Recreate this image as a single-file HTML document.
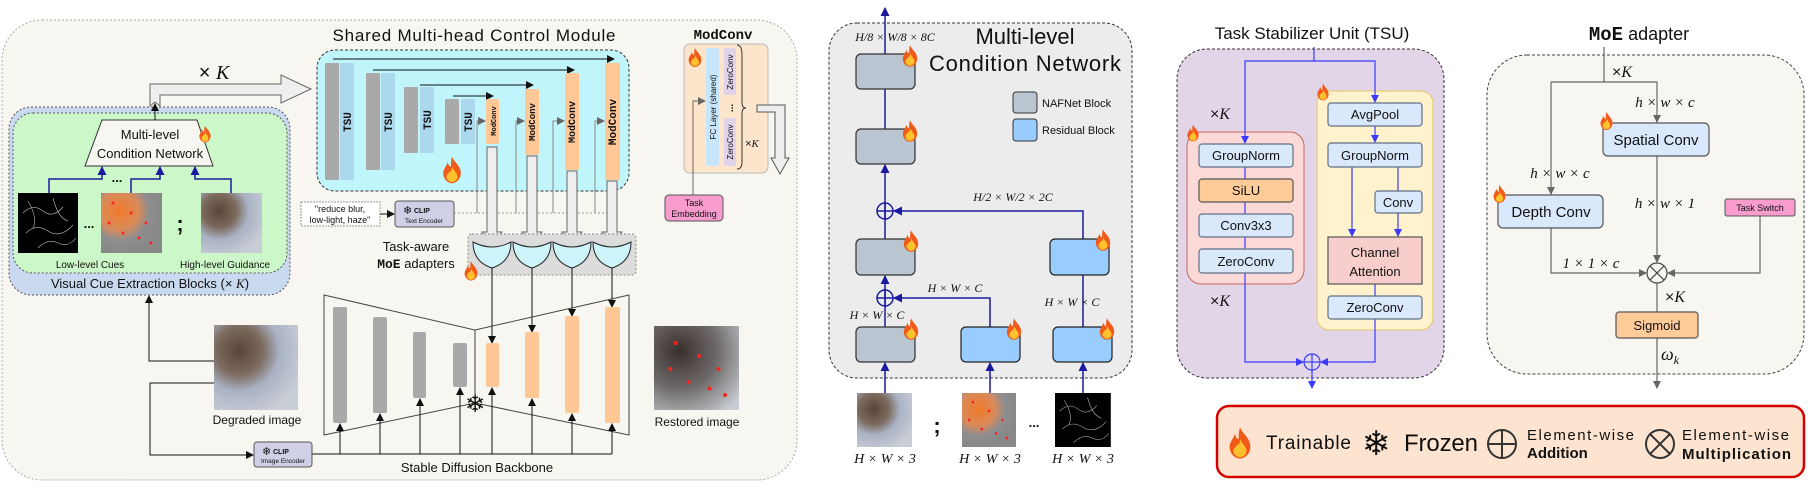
<!DOCTYPE html>
<html><head><meta charset="utf-8"><style>
html,body{margin:0;padding:0;background:#fff}
svg{display:block}
text{font-family:"Liberation Sans","DejaVu Sans",sans-serif;fill:#111}
.m{font-family:"Liberation Serif",serif;font-style:italic}
.mono{font-family:"Liberation Mono",monospace;font-weight:bold}
</style></head><body>
<svg width="1808" height="491" viewBox="0 0 1808 491" xmlns="http://www.w3.org/2000/svg">
<defs>
<symbol id="fire" viewBox="0 0 20 24">
<path d="M10 0C12 5 18 8 18 15C18 20 14 24 10 24C6 24 2 20 2 15C2 11 5 9 6 5C7 8 8 9 9 9C9 6 9 3 10 0Z" fill="#f05a1a"/>
<path d="M10 9C12 13 15 15 15 18C15 21 12 23 10 23C8 23 5 21 5 18C5 16 7 15 8 13C9 14 10 12 10 9Z" fill="#ffc22e"/>
</symbol>
<marker id="ak" markerWidth="8" markerHeight="8" refX="7" refY="4" orient="auto" markerUnits="userSpaceOnUse"><path d="M0 0L8 4L0 8Z" fill="#111"/></marker>
<marker id="ab" markerWidth="9" markerHeight="9" refX="8" refY="4.5" orient="auto" markerUnits="userSpaceOnUse"><path d="M0 0L9 4.5L0 9Z" fill="#1a1aa0"/></marker>
<marker id="ap" markerWidth="8" markerHeight="8" refX="7" refY="4" orient="auto" markerUnits="userSpaceOnUse"><path d="M0 0L8 4L0 8Z" fill="#3a3aff"/></marker>
<marker id="ag" markerWidth="8" markerHeight="8" refX="7" refY="4" orient="auto" markerUnits="userSpaceOnUse"><path d="M0 0L8 4L0 8Z" fill="#666"/></marker>
<radialGradient id="blur" cx="0.3" cy="0.3" r="0.8"><stop offset="0" stop-color="#5a4636"/><stop offset="0.35" stop-color="#7c6a5e"/><stop offset="0.6" stop-color="#a9b2c4"/><stop offset="1" stop-color="#c9cdd6"/></radialGradient>
<radialGradient id="orng" cx="0.3" cy="0.3" r="0.7"><stop offset="0" stop-color="#f07a2a"/><stop offset="0.45" stop-color="#d98a5a"/><stop offset="0.7" stop-color="#8e8e8e"/><stop offset="1" stop-color="#888"/></radialGradient>
<radialGradient id="rest" cx="0.3" cy="0.3" r="0.9"><stop offset="0" stop-color="#3a302c"/><stop offset="0.5" stop-color="#6e6a6a"/><stop offset="1" stop-color="#c8ccd2"/></radialGradient>
<g id="edges"><rect width="60" height="60" fill="#000"/><path d="M5 20 Q15 10 25 18 T45 14 M8 40 Q18 30 30 38 T55 32 M20 55 Q30 45 40 50 T58 45 M10 8 Q20 25 15 35 M35 5 Q40 25 50 28" stroke="#bbb" stroke-width="0.6" fill="none"/></g>
<g id="spots"><circle cx="12" cy="10" r="1.5" fill="#f22"/><circle cx="30" cy="20" r="1.5" fill="#f22"/><circle cx="22" cy="40" r="1.5" fill="#f22"/><circle cx="45" cy="30" r="1.5" fill="#f22"/><circle cx="50" cy="50" r="1.5" fill="#f22"/><circle cx="8" cy="30" r="1.5" fill="#f22"/><circle cx="38" cy="45" r="1.5" fill="#f22"/></g>
</defs>

<!-- ============ PANEL 1 ============ -->
<rect x="2" y="20" width="795" height="460" rx="40" fill="#f8f6f0" stroke="#aaa" stroke-dasharray="2,2"/>
<text x="474" y="41" font-size="17" text-anchor="middle" textLength="283">Shared Multi-head Control Module</text>
<rect x="317" y="50" width="312" height="141" rx="18" fill="#bff5fb" stroke="#333" stroke-dasharray="3,2"/>
<line x1="333" y1="59" x2="614" y2="59" stroke="#111" marker-end="url(#ak)"/>
<line x1="373" y1="70" x2="574" y2="70" stroke="#111" marker-end="url(#ak)"/>
<line x1="420" y1="85" x2="533" y2="85" stroke="#111" marker-end="url(#ak)"/>
<line x1="453" y1="96" x2="493" y2="96" stroke="#111" marker-end="url(#ak)"/>
<g fill="#a9a9a9"><rect x="325" y="63" width="14" height="117" rx="1"/><rect x="366" y="73" width="14" height="97" rx="1"/><rect x="404" y="87" width="14" height="66" rx="1"/><rect x="445" y="99" width="14" height="45" rx="1"/></g>
<g fill="#acd8ee"><rect x="340" y="63" width="14" height="117" rx="1"/><rect x="381" y="73" width="14" height="97" rx="1"/><rect x="420" y="87" width="14" height="66" rx="1"/><rect x="461" y="99" width="14" height="45" rx="1"/></g>
<g font-size="11">
<text transform="translate(351,122) rotate(-90)" text-anchor="middle" class="mono">TSU</text>
<text transform="translate(392,122) rotate(-90)" text-anchor="middle" class="mono">TSU</text>
<text transform="translate(431,120) rotate(-90)" text-anchor="middle" class="mono">TSU</text>
<text transform="translate(472,122) rotate(-90)" text-anchor="middle" class="mono">TSU</text></g>
<g fill="#fdc796"><rect x="486" y="99" width="13" height="45" rx="2"/><rect x="525" y="89" width="14" height="66" rx="2"/><rect x="565" y="73" width="14" height="97" rx="2"/><rect x="605" y="63" width="15" height="117" rx="2"/></g>
<text transform="translate(496,121) rotate(-90)" text-anchor="middle" class="mono" font-size="7">ModConv</text>
<text transform="translate(535,122) rotate(-90)" text-anchor="middle" class="mono" font-size="9">ModConv</text>
<text transform="translate(575,122) rotate(-90)" text-anchor="middle" class="mono" font-size="10">ModConv</text>
<text transform="translate(616,122) rotate(-90)" text-anchor="middle" class="mono" font-size="11">ModConv</text>
<use href="#fire" x="441" y="155" width="22" height="30"/>
<rect x="301" y="202" width="79" height="24" fill="#fff" stroke="#999" stroke-dasharray="2,1"/>
<text x="340" y="212" font-size="9" text-anchor="middle" font-family="Liberation Serif">"reduce blur,</text>
<text x="340" y="223" font-size="9" text-anchor="middle" font-family="Liberation Serif">low-light, haze"</text>
<line x1="380" y1="214" x2="394" y2="214" stroke="#111" marker-end="url(#ak)"/>
<rect x="395" y="201" width="59" height="26" rx="3" fill="#cfd0e6" stroke="#555"/>
<text x="403" y="214" font-size="11" fill="#3399ff">❄</text>
<text x="414" y="213" font-size="7" font-family="Liberation Mono" font-weight="bold">CLIP</text>
<text x="424" y="223" font-size="6.5" text-anchor="middle">Text Encoder</text>
<line x1="454" y1="213" x2="616" y2="213" stroke="#999" stroke-dasharray="2,2"/>
<g stroke="#888" fill="none" marker-end="url(#ag)">
<path d="M477 213V121H485"/><path d="M516 213V121H524"/><path d="M553 213V121H564"/><path d="M595 213V121H604"/></g>
<g fill="#eee" stroke="#666" stroke-width="1">
<polygon points="487,147 497,147 497,232 502,232 492,247 482,232 487,232"/>
<polygon points="527,156 537,156 537,232 542,232 532,247 522,232 527,232"/>
<polygon points="567,171 577,171 577,232 582,232 572,247 562,232 567,232"/>
<polygon points="607,181 617,181 617,232 622,232 612,247 602,232 607,232"/></g>
<rect x="468" y="234" width="168" height="41" rx="4" fill="#dcdcdc" stroke="#888" stroke-dasharray="2,2"/>
<g fill="#cdf5fb" stroke="#222">
<path d="M473 242Q492 252 511 242Q511 262 492 268Q473 262 473 242Z"/>
<path d="M513 242Q532 252 551 242Q551 262 532 268Q513 262 513 242Z"/>
<path d="M553 242Q572 252 591 242Q591 262 572 268Q553 262 553 242Z"/>
<path d="M593 242Q612 252 631 242Q631 262 612 268Q593 262 593 242Z"/></g>
<text x="416" y="251" font-size="13" text-anchor="middle">Task-aware</text>
<text x="416" y="268" font-size="13" text-anchor="middle"><tspan class="mono">MoE</tspan> adapters</text>
<use href="#fire" x="463" y="260" width="16" height="22"/>
<g stroke="#111" marker-end="url(#ak)">
<line x1="492" y1="268" x2="492" y2="343"/><line x1="532" y1="268" x2="532" y2="332"/><line x1="572" y1="268" x2="572" y2="316"/><line x1="612" y1="268" x2="612" y2="307"/></g>
<rect x="9" y="107" width="281" height="188" rx="22" fill="#c9d9f0" stroke="#555" stroke-dasharray="2,2"/>
<rect x="13" y="113" width="274" height="160" rx="20" fill="#ccf7c8" stroke="#555" stroke-dasharray="2,2"/>
<polygon points="102,120 197,120 213,166 85,166" fill="#f8f6f0" stroke="#333"/>
<text x="150" y="139" font-size="13" text-anchor="middle">Multi-level</text>
<text x="150" y="158" font-size="13" text-anchor="middle">Condition Network</text>
<use href="#fire" x="198" y="125" width="14" height="18"/>
<g stroke="#1a1aa0" stroke-width="1.5" fill="none" marker-end="url(#ab)">
<path d="M49 193V179H102V167"/><path d="M131 193V179H160V167"/><path d="M231 193V179H195V167"/></g>
<text x="117" y="182" font-size="13" text-anchor="middle" font-weight="bold">...</text>
<use href="#edges" transform="translate(18,193)"/>
<rect x="101" y="193" width="61" height="60" fill="url(#orng)"/>
<use href="#spots" transform="translate(101,193)"/>
<rect x="201" y="193" width="61" height="60" fill="url(#blur)"/>
<text x="89" y="228" font-size="13" text-anchor="middle" font-weight="bold">...</text>
<text x="180" y="231" font-size="22" text-anchor="middle" font-weight="bold">;</text>
<text x="90" y="268" font-size="10" text-anchor="middle">Low-level Cues</text>
<text x="225" y="268" font-size="10" text-anchor="middle">High-level Guidance</text>
<text x="150" y="288" font-size="13" text-anchor="middle">Visual Cue Extraction Blocks (× <tspan class="m">K</tspan>)</text>
<polygon points="150,106 150,84 281,84 281,75 311,89 281,103 281,95 160,95 160,106 155,102" fill="#eee" stroke="#666"/>
<line x1="155" y1="120" x2="155" y2="104" stroke="#111" marker-end="url(#ak)"/>
<text x="214" y="79" font-size="20" text-anchor="middle">× <tspan class="m">K</tspan></text>
<polygon points="324,295 475,330 475,403 324,435" fill="none" stroke="#444"/>
<polygon points="629,295 475,330 475,403 629,435" fill="none" stroke="#444"/>
<g fill="#a9a9a9"><rect x="333" y="307" width="14" height="116" rx="2"/><rect x="373" y="317" width="14" height="96" rx="2"/><rect x="413" y="332" width="13" height="66" rx="2"/><rect x="453" y="343" width="14" height="44" rx="2"/></g>
<g fill="#fdc796"><rect x="486" y="343" width="13" height="44" rx="2"/><rect x="525" y="332" width="14" height="66" rx="2"/><rect x="565" y="316" width="14" height="97" rx="2"/><rect x="605" y="307" width="15" height="116" rx="2"/></g>
<text x="475" y="412" font-size="24" text-anchor="middle" fill="#3399ff">❄</text>
<line x1="312" y1="454" x2="612" y2="454" stroke="#111"/>
<g stroke="#111" marker-end="url(#ak)">
<line x1="340" y1="454" x2="340" y2="424"/><line x1="380" y1="454" x2="380" y2="414"/><line x1="420" y1="454" x2="420" y2="399"/><line x1="460" y1="454" x2="460" y2="388"/><line x1="492" y1="454" x2="492" y2="388"/><line x1="532" y1="454" x2="532" y2="399"/><line x1="572" y1="454" x2="572" y2="414"/><line x1="612" y1="454" x2="612" y2="424"/></g>
<text x="477" y="472" font-size="13" text-anchor="middle">Stable Diffusion Backbone</text>
<rect x="254" y="442" width="58" height="25" rx="3" fill="#cfd0e6" stroke="#555"/>
<text x="262" y="455" font-size="11" fill="#3399ff">❄</text>
<text x="273" y="454" font-size="7" font-family="Liberation Mono" font-weight="bold">CLIP</text>
<text x="283" y="463" font-size="6.5" text-anchor="middle">Image Encoder</text>
<rect x="214" y="325" width="84" height="85" fill="url(#blur)"/>
<text x="257" y="424" font-size="12" text-anchor="middle">Degraded image</text>
<path d="M214 361H149V296" stroke="#111" fill="none" marker-end="url(#ak)"/>
<path d="M214 383H150V455H253" stroke="#111" fill="none" marker-end="url(#ak)"/>
<rect x="654" y="326" width="85" height="84" fill="url(#rest)"/>
<use href="#spots" transform="translate(660,330) scale(1.3)"/>
<text x="697" y="426" font-size="12" text-anchor="middle">Restored image</text>
<text x="723" y="39" font-size="14" text-anchor="middle" class="mono">ModConv</text>
<rect x="684" y="44" width="84" height="129" rx="6" fill="#fde5cc" stroke="#bbb"/>
<use href="#fire" x="687" y="48" width="16" height="19"/>
<rect x="706" y="48" width="13" height="118" rx="2" fill="#c8e6fb"/>
<text transform="translate(716,107) rotate(-90)" font-size="8" text-anchor="middle">FC Layer (shared)</text>
<rect x="724" y="48" width="12" height="47" rx="2" fill="#e0d3ea"/>
<rect x="724" y="118" width="12" height="48" rx="2" fill="#e0d3ea"/>
<text transform="translate(733,72) rotate(-90)" font-size="8" text-anchor="middle">ZeroConv</text>
<text transform="translate(733,142) rotate(-90)" font-size="8" text-anchor="middle">ZeroConv</text>
<text transform="translate(733,108) rotate(-90)" font-size="10" text-anchor="middle" font-weight="bold">...</text>
<path d="M737 45Q742 45 742 55V103Q742 108 746 108Q742 108 742 113V162Q742 169 737 169" fill="none" stroke="#333"/>
<text x="752" y="147" font-size="11" text-anchor="middle">×<tspan class="m">K</tspan></text>
<path d="M693 195V101H705" stroke="#666" fill="none" marker-end="url(#ag)"/>
<rect x="665" y="195" width="58" height="26" rx="4" fill="#f79ccc" stroke="#555"/>
<text x="694" y="206" font-size="9" text-anchor="middle">Task</text>
<text x="694" y="217" font-size="9" text-anchor="middle">Embedding</text>
<polygon points="757,105 785,105 785,158 789,158 780,174 771,158 775,158 775,112 757,112" fill="#eee" stroke="#555"/>

<!-- ============ PANEL 2 ============ -->
<rect x="829" y="23" width="303" height="355" rx="28" fill="#ececec" stroke="#333" stroke-dasharray="3,2"/>
<line x1="885" y1="54" x2="885" y2="8" stroke="#1a1aa0" stroke-width="1.5" marker-end="url(#ab)"/>
<text x="895" y="41" font-size="12" text-anchor="middle" class="m">H/8 × W/8 × 8C</text>
<text x="1025" y="44" font-size="22" text-anchor="middle">Multi-level</text>
<text x="1025" y="71" font-size="22" text-anchor="middle" textLength="192">Condition Network</text>
<rect x="1013" y="92" width="24" height="21" rx="3" fill="#b9c5d0" stroke="#333"/>
<text x="1042" y="107" font-size="11">NAFNet Block</text>
<rect x="1013" y="119" width="24" height="22" rx="3" fill="#99ccff" stroke="#333"/>
<text x="1042" y="134" font-size="11">Residual Block</text>
<g stroke="#1a1aa0" stroke-width="1.5" fill="none">
<line x1="885" y1="129" x2="885" y2="89"/>
<line x1="885" y1="239" x2="885" y2="165" marker-end="url(#ab)"/>
<line x1="885" y1="327" x2="885" y2="276" marker-end="url(#ab)"/>
<circle cx="885" cy="211" r="8"/><line x1="877" y1="211" x2="893" y2="211"/><line x1="885" y1="203" x2="885" y2="219"/>
<circle cx="885" cy="298" r="8"/><line x1="877" y1="298" x2="893" y2="298"/><line x1="885" y1="290" x2="885" y2="306"/>
<path d="M1083 239V211H894" marker-end="url(#ab)"/>
<path d="M990 327V298H894" marker-end="url(#ab)"/>
<line x1="1083" y1="327" x2="1083" y2="275"/>
<line x1="885" y1="393" x2="885" y2="363" marker-end="url(#ab)"/>
<line x1="990" y1="393" x2="990" y2="363" marker-end="url(#ab)"/>
<line x1="1083" y1="393" x2="1083" y2="363" marker-end="url(#ab)"/></g>
<g fill="#b9c5d0" stroke="#333" stroke-width="1.2">
<rect x="856" y="54" width="59" height="35" rx="5"/><rect x="856" y="129" width="59" height="35" rx="5"/><rect x="856" y="239" width="59" height="36" rx="5"/><rect x="856" y="327" width="59" height="35" rx="5"/></g>
<g fill="#99ccff" stroke="#222" stroke-width="1.2">
<rect x="961" y="327" width="59" height="35" rx="5"/><rect x="1053" y="327" width="59" height="35" rx="5"/><rect x="1050" y="239" width="59" height="36" rx="5"/></g>
<use href="#fire" x="901" y="44" width="18" height="24"/><use href="#fire" x="901" y="119" width="18" height="24"/><use href="#fire" x="902" y="229" width="18" height="24"/><use href="#fire" x="902" y="317" width="18" height="24"/>
<use href="#fire" x="1005" y="317" width="18" height="24"/><use href="#fire" x="1098" y="317" width="18" height="24"/><use href="#fire" x="1094" y="228" width="18" height="24"/>
<text x="1013" y="201" font-size="12" text-anchor="middle" class="m">H/2 × W/2 × 2C</text>
<text x="955" y="292" font-size="12" text-anchor="middle" class="m">H × W × C</text>
<text x="877" y="319" font-size="12" text-anchor="middle" class="m">H × W × C</text>
<text x="1072" y="306" font-size="12" text-anchor="middle" class="m">H × W × C</text>
<rect x="857" y="393" width="55" height="54" fill="url(#blur)"/>
<rect x="962" y="393" width="54" height="54" fill="url(#orng)"/><use href="#spots" transform="translate(962,393) scale(0.9)"/>
<use href="#edges" transform="translate(1055,393) scale(0.93,0.9)"/>
<text x="937" y="433" font-size="22" text-anchor="middle" font-weight="bold">;</text>
<text x="1034" y="427" font-size="13" text-anchor="middle" font-weight="bold">...</text>
<text x="885" y="463" font-size="14" text-anchor="middle" class="m">H × W × 3</text>
<text x="990" y="463" font-size="14" text-anchor="middle" class="m">H × W × 3</text>
<text x="1083" y="463" font-size="14" text-anchor="middle" class="m">H × W × 3</text>

<!-- ============ PANEL 3 TSU ============ -->
<text x="1312" y="39" font-size="17" text-anchor="middle">Task Stabilizer Unit (TSU)</text>
<rect x="1177" y="49" width="267" height="329" rx="30" fill="#e1d5e7" stroke="#333" stroke-dasharray="3,2"/>
<rect x="1187" y="132" width="117" height="152" rx="14" fill="#fbd9d6" stroke="#c86560"/>
<rect x="1317" y="91" width="116" height="239" rx="12" fill="#fff2cc" stroke="#e6c56b"/>
<g stroke="#3a3aff" stroke-width="1.2" fill="none">
<path d="M1314 47V61H1245V143" marker-end="url(#ap)"/>
<path d="M1314 61H1375V102" marker-end="url(#ap)"/>
<line x1="1245" y1="167" x2="1245" y2="249"/>
<line x1="1375" y1="126" x2="1375" y2="142" marker-end="url(#ap)"/>
<line x1="1352" y1="167" x2="1352" y2="236" marker-end="url(#ap)"/>
<line x1="1398" y1="167" x2="1398" y2="191"/>
<line x1="1398" y1="213" x2="1398" y2="236" marker-end="url(#ap)"/>
<line x1="1375" y1="284" x2="1375" y2="296"/>
<path d="M1375 319V362H1321" marker-end="url(#ap)"/>
<path d="M1245 273V362H1303" marker-end="url(#ap)"/>
<circle cx="1312" cy="362" r="8"/><line x1="1304" y1="362" x2="1320" y2="362"/><line x1="1312" y1="354" x2="1312" y2="370"/>
<line x1="1312" y1="370" x2="1312" y2="388" marker-end="url(#ap)"/></g>
<g fill="#dae8fc" stroke="#5f6f85" stroke-width="1.2">
<rect x="1199" y="144" width="94" height="23" rx="3"/><rect x="1199" y="214" width="94" height="23" rx="3"/><rect x="1199" y="249" width="94" height="24" rx="3"/>
<rect x="1328" y="103" width="94" height="23" rx="3"/><rect x="1328" y="143" width="94" height="24" rx="3"/><rect x="1375" y="191" width="47" height="22" rx="3"/><rect x="1328" y="296" width="94" height="23" rx="3"/></g>
<rect x="1199" y="179" width="94" height="23" rx="3" fill="#ffcc99" stroke="#555" stroke-width="1.2"/>
<rect x="1328" y="237" width="94" height="47" fill="#f8cecc" stroke="#555" stroke-width="1.2"/>
<g font-size="13" text-anchor="middle">
<text x="1246" y="160">GroupNorm</text><text x="1246" y="195">SiLU</text><text x="1246" y="230">Conv3x3</text><text x="1246" y="266">ZeroConv</text>
<text x="1375" y="119">AvgPool</text><text x="1375" y="160">GroupNorm</text><text x="1398" y="207">Conv</text>
<text x="1375" y="257">Channel</text><text x="1375" y="276">Attention</text><text x="1375" y="312">ZeroConv</text></g>
<text x="1220" y="119" font-size="16" text-anchor="middle">×<tspan class="m">K</tspan></text>
<text x="1220" y="306" font-size="16" text-anchor="middle">×<tspan class="m">K</tspan></text>
<use href="#fire" x="1186" y="124" width="14" height="18"/>
<use href="#fire" x="1316" y="83" width="14" height="18"/>

<!-- ============ PANEL 4 MoE ============ -->
<text x="1639" y="40" font-size="18" text-anchor="middle"><tspan class="mono" font-size="19">MoE</tspan> adapter</text>
<rect x="1487" y="55" width="317" height="319" rx="40" fill="#f8f6f0" stroke="#444" stroke-dasharray="3,2"/>
<g stroke="#666" stroke-width="1.2" fill="none">
<path d="M1604 47V82"/><path d="M1551 82H1657V122" marker-end="url(#ag)"/>
<path d="M1551 82V194" marker-end="url(#ag)"/>
<path d="M1657 156V262" marker-end="url(#ag)"/>
<path d="M1551 228V273H1646" marker-end="url(#ag)"/>
<path d="M1760 216V273H1668" marker-end="url(#ag)"/>
<line x1="1657" y1="283" x2="1657" y2="312"/>
<line x1="1657" y1="338" x2="1657" y2="388" marker-end="url(#ag)"/>
<circle cx="1657" cy="273" r="10" stroke="#444"/><line x1="1650" y1="266" x2="1664" y2="280" stroke="#444"/><line x1="1664" y1="266" x2="1650" y2="280" stroke="#444"/></g>
<text x="1622" y="77" font-size="16" text-anchor="middle">×<tspan class="m">K</tspan></text>
<text x="1665" y="107" font-size="15" text-anchor="middle" class="m">h × w × c</text>
<text x="1560" y="178" font-size="15" text-anchor="middle" class="m">h × w × c</text>
<text x="1665" y="208" font-size="15" text-anchor="middle" class="m">h × w × 1</text>
<text x="1591" y="268" font-size="15" text-anchor="middle" class="m">1 × 1 × c</text>
<text x="1675" y="302" font-size="16" text-anchor="middle">×<tspan class="m">K</tspan></text>
<text x="1670" y="360" font-size="18" text-anchor="middle" class="m">ω<tspan font-size="12" dy="4">k</tspan></text>
<rect x="1603" y="123" width="106" height="33" rx="5" fill="#dae8fc" stroke="#555" stroke-width="1.2"/>
<text x="1656" y="145" font-size="15" text-anchor="middle">Spatial Conv</text>
<rect x="1498" y="195" width="105" height="33" rx="5" fill="#dae8fc" stroke="#555" stroke-width="1.2"/>
<text x="1551" y="217" font-size="15" text-anchor="middle">Depth Conv</text>
<use href="#fire" x="1599" y="111" width="15" height="20"/>
<use href="#fire" x="1492" y="184" width="15" height="20"/>
<rect x="1725" y="199" width="70" height="17" rx="2" fill="#f79ccc" stroke="#555"/>
<text x="1760" y="211" font-size="9" text-anchor="middle">Task Switch</text>
<rect x="1616" y="312" width="82" height="26" rx="3" fill="#ffcc99" stroke="#555" stroke-width="1.2"/>
<text x="1657" y="330" font-size="13" text-anchor="middle">Sigmoid</text>

<!-- Legend -->
<rect x="1217" y="406" width="587" height="71" rx="12" fill="#fde4d0" stroke="#d40000" stroke-width="2.5"/>
<use href="#fire" x="1227" y="426" width="26" height="34"/>
<text x="1266" y="449" font-size="19" textLength="85">Trainable</text>
<text x="1376" y="455" font-size="34" text-anchor="middle" fill="#3399ff">❄</text>
<text x="1404" y="451" font-size="24" textLength="74">Frozen</text>
<g stroke="#333" stroke-width="2" fill="none">
<circle cx="1502" cy="444" r="14"/><line x1="1488" y1="444" x2="1516" y2="444"/><line x1="1502" y1="430" x2="1502" y2="458"/>
<circle cx="1660" cy="444" r="14"/><line x1="1650" y1="434" x2="1670" y2="454"/><line x1="1670" y1="434" x2="1650" y2="454"/></g>
<text x="1527" y="440" font-size="15" textLength="107">Element-wise</text>
<text x="1527" y="458" font-size="15" font-weight="bold">Addition</text>
<text x="1682" y="440" font-size="15" textLength="107">Element-wise</text>
<text x="1682" y="459" font-size="15" font-weight="bold" textLength="109">Multiplication</text>
</svg>
</body></html>
